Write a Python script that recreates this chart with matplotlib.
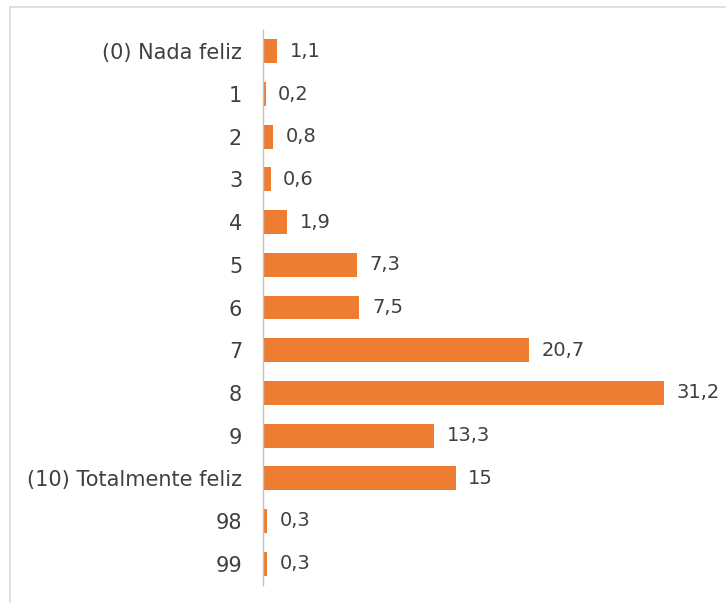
import matplotlib.pyplot as plt
from matplotlib.lines import Line2D

categories = ['(0) Nada feliz', '1', '2', '3', '4', '5', '6', '7', '8', '9',
              '(10) Totalmente feliz', '98', '99']
values = [1.1, 0.2, 0.8, 0.6, 1.9, 7.3, 7.5, 20.7, 31.2, 13.3, 15, 0.3, 0.3]
value_labels = ['1,1', '0,2', '0,8', '0,6', '1,9', '7,3', '7,5', '20,7', '31,2', '13,3', '15', '0,3', '0,3']

plt.rcParams['font.family'] = ['DejaVu Sans']

fig = plt.figure(figsize=(7.26, 6.03), dpi=100)
ax = fig.add_axes([263 / 726, 1 - 585 / 603, (710 - 263) / 726, (585 - 30) / 603])

y = list(range(len(categories)))
ax.barh(y, values, height=0.56, color='#ED7D31')
ax.set_ylim(len(categories) - 0.5, -0.5)
ax.set_xlim(0, 31.2 * 447 / 401)

ax.set_yticks(y)
ax.set_yticklabels(categories, fontsize=15, color='#404040')
ax.tick_params(axis='y', length=0, pad=15)
ax.set_xticks([])
for s in ['top', 'right', 'bottom']:
    ax.spines[s].set_visible(False)
ax.spines['left'].set_color('#BFBFBF')
ax.spines['left'].set_linewidth(1)

for yi, v, lab in zip(y, values, value_labels):
    ax.annotate(lab, (v, yi), xytext=(9, 0), textcoords='offset points',
                va='center', ha='left', fontsize=14, color='#404040')

# outer frame
fig.add_artist(Line2D([10 / 726, 1], [1 - 7 / 603, 1 - 7 / 603], color='#D9D9D9', lw=1.2))
fig.add_artist(Line2D([10 / 726, 10 / 726], [0, 1 - 7 / 603], color='#D9D9D9', lw=1.2))

fig.savefig('out.png', dpi=100)
